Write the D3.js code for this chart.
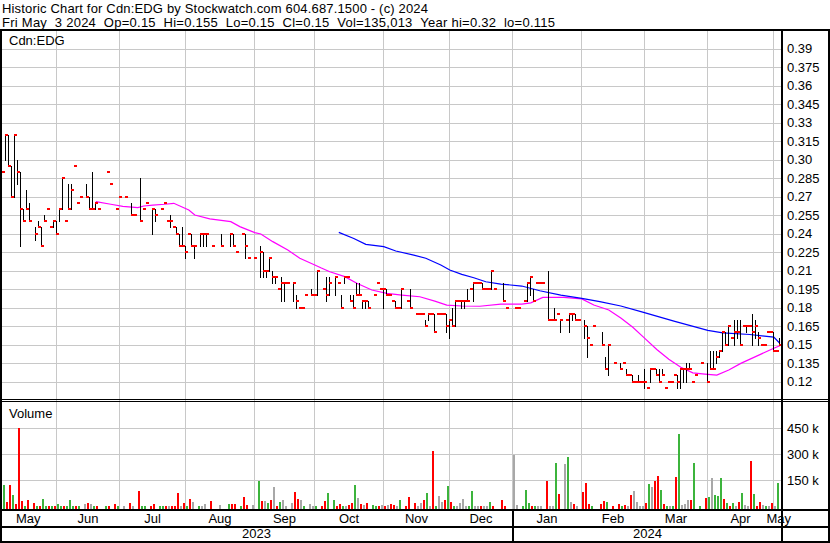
<!DOCTYPE html>
<html><head><meta charset="utf-8">
<script src="https://cdn.jsdelivr.net/npm/d3@7"></script>
<style>
html,body{margin:0;padding:0;background:#fff;}
svg{display:block;}
text{font-family:Arial,"Liberation Sans",sans-serif;font-size:13px;fill:#000;}
</style></head><body>
<svg id="c" width="830" height="543"></svg>
<script>
// ---- data: one entry per weekday slot, starting Mon May 8 2023, ending Fri May 3 2024 ----
const highs = [
.29,.32,.32,.295,.32,.30,.29,.26,.275,.265,
null,.245,.25,.245,.255,.26,.245,.25,.25,.26,
.285,.25,.28,.28,.295,.265,.27,null,.28,.27,
.29,.265,.26,null,null,.29,.28,null,.26,.27,
null,.27,null,.265,.255,null,.285,.26,.265,null,
.26,.26,null,.26,.265,.25,.255,.245,.245,.24,
.245,.23,.24,.24,.23,null,.24,.24,.24,null,
.23,null,null,.24,null,null,.24,.24,.225,null,
.24,.24,.22,null,.22,null,.23,.225,.21,.22,
.21,.205,.195,.205,.20,.20,null,.20,.19,.18,
.18,.19,null,.195,.19,.21,null,.195,.205,.205,
null,.205,.20,.19,.205,.205,.19,.19,.20,.20,
.185,.185,.185,null,.19,.20,.195,.195,.195,.19,
.185,.185,.18,.195,null,.185,.195,null,.175,.175,
.175,.17,.175,.175,.175,.175,.175,.175,.175,.17,
.18,.185,.185,.185,.185,.195,.195,.20,.20,.20,
.20,.195,.195,.21,.195,null,null,.20,.18,null,
null,.18,.18,null,.185,.20,.205,.195,.20,.20,
.20,null,.21,.17,.18,.175,.17,null,.17,.175,
.175,.175,.17,null,.17,.165,.15,.165,null,null,
.16,.14,.15,null,.135,null,.135,.135,.13,.125,
.125,.12,.125,.12,.13,.115,.13,.13,.13,.13,
.13,.115,.12,.12,.125,.125,.13,.13,.135,.135,
.12,.125,null,.135,null,.135,.145,.145,.145,.145,
.16,.16,.165,.155,.17,.17,.17,.165,.165,.165,
.175,.17,.16,.15,.15,.16,.16,.16,.145,.155];
const lows = [
.29,.30,.295,.27,.27,.28,.23,.25,.26,.25,
null,.235,.245,.23,.25,.26,.245,.245,.24,.25,
.26,.25,.26,.26,.295,.265,.27,null,.27,.26,
.26,.26,.26,null,null,.29,.28,null,.26,.27,
null,.27,null,.255,.255,null,.25,.26,.265,null,
.24,.25,null,.26,.265,.25,.245,.245,.24,.23,
.23,.22,.24,.23,.22,null,.23,.23,.23,null,
.23,null,null,.23,null,null,.23,.23,.225,null,
.24,.22,.22,null,.22,null,.205,.205,.205,.21,
.20,.20,.195,.185,.185,.20,null,.185,.18,.18,
.18,.19,null,.19,.19,.19,null,.195,.185,.19,
null,.19,.20,.18,.20,.205,.185,.18,.19,.19,
.18,.18,.18,null,.19,.20,.195,.18,.19,.19,
.185,.18,.18,.18,null,.185,.18,null,.175,.175,
.175,.165,.17,.175,.16,.175,.175,.175,.16,.155,
.165,.165,.185,.18,.18,.185,.195,.185,.20,.20,
.195,.195,.195,.195,.195,null,null,.185,.18,null,
null,.18,.18,null,.185,.185,.19,.185,.20,.20,
.20,null,.17,.17,.17,.175,.16,null,.17,.16,
.17,.17,.17,null,.155,.14,.15,.165,null,null,
.15,.13,.125,null,.135,null,.13,.135,.125,.125,
.12,.12,.12,.12,.115,.115,.12,.13,.125,.12,
.125,.115,.12,.12,.125,.115,.115,.12,.12,.13,
.12,.125,null,.135,null,.12,.13,.13,.135,.14,
.145,.15,.15,.155,.15,.155,.15,.165,.16,.165,
.15,.155,.15,.15,.15,.16,.16,.145,.145,.15];
const closes = [
.29,.32,.295,.27,.32,.29,.26,.25,.26,.25,
null,.24,.245,.23,.25,.26,.245,.25,.24,.26,
.285,.25,.26,.275,.295,.265,.27,null,.27,.26,
.26,.265,.26,null,null,.29,.28,null,.26,.27,
null,.27,null,.255,.255,null,.25,.26,.265,null,
.26,.255,null,.26,.265,.25,.25,.245,.24,.23,
.23,.225,.24,.23,.23,null,.24,.24,.24,null,
.23,null,null,.23,null,null,.24,.23,.225,null,
.24,.23,.22,null,.22,null,.225,.21,.21,.22,
.205,.205,.195,.20,.20,.20,null,.20,.185,.18,
.18,.19,null,.19,.19,.21,null,.195,.19,.20,
null,.205,.20,.18,.205,.205,.185,.18,.19,.19,
.185,.185,.18,null,.19,.20,.195,.195,.19,.19,
.185,.18,.18,.195,null,.185,.18,null,.175,.175,
.175,.165,.175,.175,.16,.175,.175,.175,.165,.17,
.165,.185,.185,.185,.185,.185,.195,.20,.20,.20,
.195,.195,.195,.21,.195,null,null,.185,.18,null,
null,.18,.18,null,.185,.20,.205,.185,.20,.20,
.20,null,.17,.17,.17,.175,.17,null,.17,.175,
.175,.17,.17,null,.165,.155,.15,.165,null,null,
.15,.13,.15,null,.135,null,.13,.135,.125,.125,
.12,.12,.12,.12,.12,.115,.13,.13,.125,.12,
.125,.115,.12,.12,.125,.12,.13,.13,.13,.13,
.12,.125,null,.135,null,.12,.13,.13,.14,.145,
.16,.15,.165,.155,.16,.16,.15,.165,.165,.165,
.16,.165,.155,.15,.15,.16,.16,.145,.145,.15];
// volume in thousands of shares
const volumesK = [
60,123,27,123,65,13,450,31,2,36,
null,19,2,2,42,1,4,4,4,13,
2,1,1,36,1,4,1,null,13,19,
13,2,1,null,null,4,1,null,13,1,
null,1,null,19,1,null,88,1,4,null,
2,13,null,1,4,4,2,2,2,77,
2,19,2,42,25,null,2,2,13,null,
31,null,null,7,null,null,13,13,13,null,
4,54,7,null,7,null,146,31,31,19,
36,111,1,25,36,1,null,19,82,42,
36,1,null,13,1,2,null,1,31,77,
null,36,1,13,1,1,7,19,123,48,
13,7,19,null,7,1,1,7,1,7,
13,7,2,36,null,2,54,null,19,2,
19,36,77,2,318,1,59,25,36,117,
25,2,1,19,42,2,1,88,1,1,
1,1,1,25,1,null,null,36,1,null,
null,296,7,null,2,94,19,2,1,1,
1,null,146,1,1,248,71,null,244,284,
25,13,1,null,82,134,13,1,null,null,
13,31,25,null,1,null,13,1,7,1,
65,88,25,2,2,19,127,111,146,175,
94,13,1,1,1,169,415,7,13,36,
36,248,null,2,null,48,54,163,65,59,
163,42,19,2,19,2,25,77,7,2,
261,71,1,25,7,1,1,19,1,135];
// moving averages (slot index, value)
const maShortSlots = [31,36,40,45,47,50,54,57,62,64,69,76,79,84,86,90,95,99,104,106,109,114,118,123,128,133,139,144,148,153,159,166,173,176,180,187,193,197,202,206,210,214,218,222,226,230,234,238,242,246,252,257,259];
const maShortVals  = [.2658,.2637,.262,.261,.2623,.263,.2637,.2645,.259,.255,.2518,.2496,.2456,.2407,.2396,.2334,.2267,.2199,.2145,.2122,.209,.205,.1996,.1942,.1915,.1901,.1887,.1852,.182,.1812,.181,.1828,.1828,.1838,.1882,.1882,.187,.182,.178,.1715,.164,.155,.146,.138,.1315,.127,.126,.1252,.1293,.1347,.1414,.1469,.149];
const maLongSlots = [112,117,121,127,131,137,141,146,149,153,157,161,166,173,179,186,193,199,206,213,224,235,240,249,257,259];
const maLongVals  = [.2409,.236,.2312,.2293,.2258,.2225,.2199,.2144,.2104,.2069,.2041,.2009,.199,.1974,.1936,.19,.1874,.1847,.1812,.1765,.1688,.1614,.1595,.1581,.156,.151];
// axis labels
const priceTicks = [0.12,0.135,0.15,0.165,0.18,0.195,0.21,0.225,0.24,0.255,0.27,0.285,0.30,0.315,0.33,0.345,0.36,0.375,0.39];
const priceTickLabels = ["0.12","0.135","0.15","0.165","0.18","0.195","0.21","0.225","0.24","0.255","0.27","0.285","0.30","0.315","0.33","0.345","0.36","0.375","0.39"];
const volTicks = [150,300,450];
const volTickLabels = ["150 k","300 k","450 k"];
const monthNames = ["May","Jun","Jul","Aug","Sep","Oct","Nov","Dec","Jan","Feb","Mar","Apr","May"];
const monthStartSlots = [18,39,61,84,104,127,149,170,193,214,235,257];
const years = ["2023","2024"];
const yearStartSlot = 170;
const titleLine1 = "Historic Chart for Cdn:EDG by Stockwatch.com 604.687.1500 - (c) 2024";
const titleLine2 = "Fri May  3 2024  Op=0.15  Hi=0.155  Lo=0.15  Cl=0.15  Vol=135,013  Year hi=0.32  lo=0.115";

// ---- drawing ----
const svg = d3.select("#c");
const nSlots = closes.length;
const xs = d3.scaleLinear().domain([0, 1]).range([2.3, 5.3]);
const X = s => Math.round(xs(s));
const y = d3.scaleLinear().domain([0.12, 0.39]).range([381.5, 48.5]);
const yv = d3.scaleLinear().domain([0, 450]).range([506.3, 428.3]);
const axisX = 781, gridCol = "#c8c8c8";
const nb = s => s.replace(/ /g, "\u00a0");

svg.append("rect").attr("width",830).attr("height",543).attr("fill","#fff");

// titles
svg.append("text").attr("x",2).attr("y",13).attr("textLength",426).attr("lengthAdjust","spacing").text(nb(titleLine1));
svg.append("text").attr("x",2).attr("y",27).attr("textLength",553).attr("lengthAdjust","spacing").text(nb(titleLine2));

const g = svg.append("g").attr("shape-rendering","crispEdges");
// horizontal price grid
g.selectAll("line.hg").data(priceTicks).join("line")
  .attr("x1",1).attr("x2",axisX).attr("y1",d=>Math.round(y(d))+0.5).attr("y2",d=>Math.round(y(d))+0.5)
  .attr("stroke",gridCol);
// horizontal volume grid
g.selectAll("line.vg").data(volTicks).join("line")
  .attr("x1",1).attr("x2",axisX).attr("y1",d=>Math.round(yv(d))+0.5).attr("y2",d=>Math.round(yv(d))+0.5)
  .attr("stroke",gridCol);
// vertical month grid
g.selectAll("line.mg").data(monthStartSlots).join("line")
  .attr("x1",d=>X(d)+0.5).attr("x2",d=>X(d)+0.5).attr("y1",31).attr("y2",509)
  .attr("stroke",gridCol);

// moving averages
const lineGen = d3.line().x(d=>xs(d[0])+0.5).y(d=>y(d[1]));
svg.append("path").datum(maShortSlots.map((s,i)=>[s,maShortVals[i]]))
  .attr("d",lineGen).attr("fill","none").attr("stroke","#ff00ff").attr("stroke-width",1.2);
svg.append("path").datum(maLongSlots.map((s,i)=>[s,maLongVals[i]]))
  .attr("d",lineGen).attr("fill","none").attr("stroke","#0000ff").attr("stroke-width",1.2);

// price bars
const days = d3.range(nSlots).filter(i=>closes[i]!=null).map(i=>({i,h:highs[i],l:lows[i],c:closes[i],v:volumesK[i]}));
let prev = null;
days.forEach(d=>{ d.dir = prev==null ? 0 : Math.sign(Math.round((d.c-prev)*1000)); prev = d.c; });
const bars = svg.append("g").attr("shape-rendering","crispEdges");
bars.selectAll("rect.hl").data(days.filter(d=>d.h>d.l)).join("rect")
  .attr("x",d=>X(d.i)).attr("width",1)
  .attr("y",d=>Math.round(y(d.h))).attr("height",d=>Math.round(y(d.l))-Math.round(y(d.h))+1)
  .attr("fill","#000");
bars.selectAll("rect.cl").data(days).join("rect")
  .attr("x",d=>X(d.i)).attr("width",3)
  .attr("y",d=>Math.round(y(d.c))-1).attr("height",2)
  .attr("fill","#ff0000");

// volume bars
const volCol = d=> d.dir>0 ? "#3cb43c" : d.dir<0 ? "#ff0000" : "#a8a8a8";
bars.selectAll("rect.vol").data(days.filter(d=>d.v!=null)).join("rect")
  .attr("x",d=>X(d.i)-2).attr("width",2)
  .attr("y",d=>Math.round(yv(d.v))).attr("height",d=>509-Math.round(yv(d.v)))
  .attr("fill",volCol);

// axes labels (right side)
const pa = svg.append("g").attr("transform",`translate(${axisX+2},0)`)
  .call(d3.axisRight(y).tickValues(priceTicks).tickSize(0).tickPadding(4).tickFormat((d,i)=>priceTickLabels[i]));
pa.select(".domain").remove();
const va = svg.append("g").attr("transform",`translate(${axisX+2},0)`)
  .call(d3.axisRight(yv).tickValues(volTicks).tickSize(0).tickPadding(4).tickFormat((d,i)=>volTickLabels[i]));
va.select(".domain").remove();

svg.append("text").attr("x",9).attr("y",45).text("Cdn:EDG");
svg.append("text").attr("x",9).attr("y",418).text("Volume");

// month labels
const bounds = [0, ...monthStartSlots.map(s=>X(s)+0.5), axisX+3];
svg.selectAll("text.mon").data(monthNames).join("text")
  .attr("x",(d,i)=>(bounds[i]+bounds[i+1])/2).attr("y",523).attr("text-anchor","middle").text(d=>d);
const yb = [0, X(yearStartSlot)+1, axisX+1];
svg.selectAll("text.yr").data(years).join("text")
  .attr("x",(d,i)=>(yb[i]+yb[i+1])/2).attr("y",538).attr("text-anchor","middle").text(d=>d);

// frame lines
const f = svg.append("g").attr("fill","#000").attr("shape-rendering","crispEdges");
f.append("rect").attr("x",0).attr("y",29).attr("width",830).attr("height",2);
f.append("rect").attr("x",0).attr("y",29).attr("width",2).attr("height",514);
f.append("rect").attr("x",828).attr("y",29).attr("width",2).attr("height",514);
f.append("rect").attr("x",axisX).attr("y",29).attr("width",2).attr("height",514);
f.append("rect").attr("x",0).attr("y",399).attr("width",830).attr("height",1);
f.append("rect").attr("x",0).attr("y",401).attr("width",830).attr("height",1);
f.append("rect").attr("x",0).attr("y",509).attr("width",830).attr("height",2);
f.append("rect").attr("x",0).attr("y",526).attr("width",830).attr("height",2);
f.append("rect").attr("x",0).attr("y",541).attr("width",830).attr("height",2);
f.append("rect").attr("x",X(yearStartSlot)).attr("y",509).attr("width",2).attr("height",34);
</script>
</body></html>
